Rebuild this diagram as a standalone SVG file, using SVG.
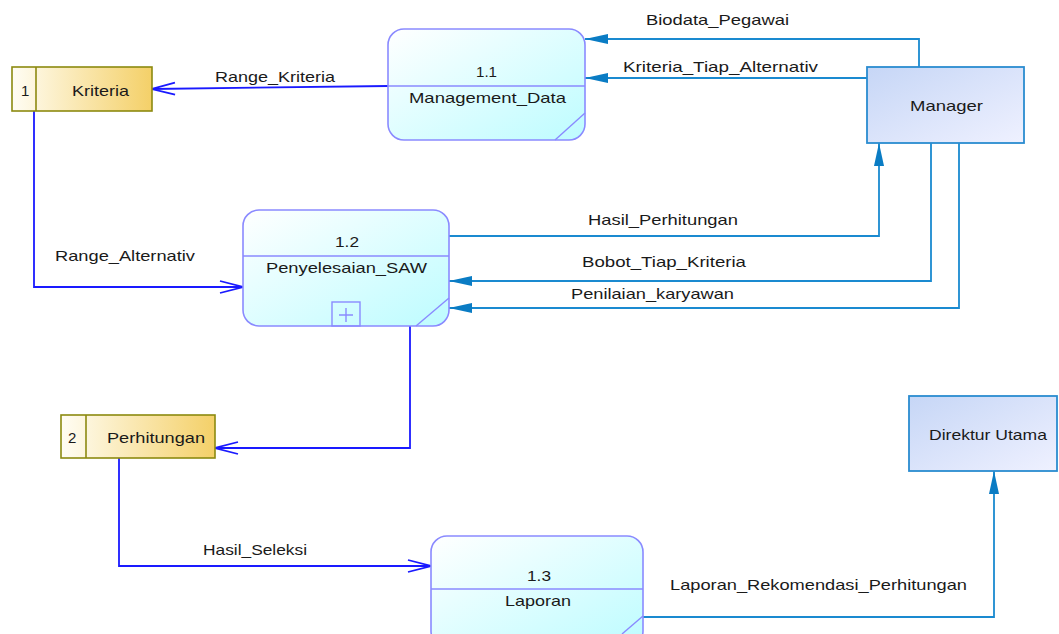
<svg xmlns="http://www.w3.org/2000/svg" width="1059" height="634" viewBox="0 0 1059 634">
  <style>
    text { font-family: "Liberation Sans", Arial, sans-serif; font-size: 15px; fill: #1a1a1a; }
    .proc { fill: url(#gProc); stroke: #8a8aff; stroke-width: 1.6; }
    .procline { stroke: #8a8aff; stroke-width: 1.4; fill: none; }
    .store { fill: url(#gStore); stroke: #8c8a10; stroke-width: 1.6; }
    .ent { fill: url(#gEnt); stroke: #2a8cd0; stroke-width: 1.8; }
    .flowA { fill: none; stroke: #1a8ad0; stroke-width: 1.8; }
    .flowB { fill: none; stroke: #1a1aff; stroke-width: 1.8; }
  </style>
  <defs>
    <linearGradient id="gProc" x1="0" y1="0" x2="1" y2="1">
      <stop offset="0" stop-color="#ffffff"/>
      <stop offset="1" stop-color="#bdfcff"/>
    </linearGradient>
    <linearGradient id="gStore" x1="0" y1="0" x2="1" y2="0">
      <stop offset="0" stop-color="#fffdf4"/>
      <stop offset="1" stop-color="#f4d068"/>
    </linearGradient>
    <linearGradient id="gEnt" x1="0" y1="0" x2="1" y2="1">
      <stop offset="0" stop-color="#c6d6f6"/>
      <stop offset="1" stop-color="#eff1ff"/>
    </linearGradient>
    <marker id="solid" markerUnits="userSpaceOnUse" markerWidth="24" markerHeight="12" refX="23" refY="6" orient="auto">
      <path d="M0,1 L23,6 L0,11 Z" fill="#0a7cc4"/>
    </marker>
    <marker id="open" markerUnits="userSpaceOnUse" markerWidth="26" markerHeight="16" refX="24" refY="8" orient="auto">
      <path d="M1,2 L24,8 L1,14" fill="none" stroke="#1a1aff" stroke-width="1.8"/>
    </marker>
  </defs>

  <!-- data flows -->
  <g id="connectors">
    <path class="flowA" d="M919,67 V39 H585" marker-end="url(#solid)"/>
    <path class="flowA" d="M867,78 H585" marker-end="url(#solid)"/>
    <path class="flowB" d="M388,86 L152,89" marker-end="url(#open)"/>
    <path class="flowB" d="M34,111 V287 H243" marker-end="url(#open)"/>
    <path class="flowA" d="M449,236 H879 V143" marker-end="url(#solid)"/>
    <path class="flowA" d="M931,143 V281 H449" marker-end="url(#solid)"/>
    <path class="flowA" d="M959,143 V308 H449" marker-end="url(#solid)"/>
    <path class="flowB" d="M410,326 V448 H215" marker-end="url(#open)"/>
    <path class="flowB" d="M119,458 V566 H431" marker-end="url(#open)"/>
    <path class="flowA" d="M643,617 H994 V471" marker-end="url(#solid)"/>

    <text x="646" y="25" textLength="143" lengthAdjust="spacingAndGlyphs">Biodata_Pegawai</text>
    <text x="623" y="72" textLength="195" lengthAdjust="spacingAndGlyphs">Kriteria_Tiap_Alternativ</text>
    <text x="215" y="82" textLength="120" lengthAdjust="spacingAndGlyphs">Range_Kriteria</text>
    <text x="55" y="261" textLength="140" lengthAdjust="spacingAndGlyphs">Range_Alternativ</text>
    <text x="588" y="225" textLength="150" lengthAdjust="spacingAndGlyphs">Hasil_Perhitungan</text>
    <text x="582" y="267" textLength="164" lengthAdjust="spacingAndGlyphs">Bobot_Tiap_Kriteria</text>
    <text x="571" y="299" textLength="163" lengthAdjust="spacingAndGlyphs">Penilaian_karyawan</text>
    <text x="203" y="555" textLength="104" lengthAdjust="spacingAndGlyphs">Hasil_Seleksi</text>
    <text x="670" y="590" textLength="297" lengthAdjust="spacingAndGlyphs">Laporan_Rekomendasi_Perhitungan</text>
  </g>

  <!-- process 1.1 -->
  <g id="p1_1">
    <rect class="proc" x="388" y="29" width="197" height="111" rx="16"/>
    <line class="procline" x1="388" y1="86" x2="585" y2="86"/>
    <line class="procline" x1="555" y1="140" x2="585" y2="113"/>
    <text x="476" y="77" textLength="21" lengthAdjust="spacingAndGlyphs">1.1</text>
    <text x="409" y="103" textLength="157" lengthAdjust="spacingAndGlyphs">Management_Data</text>
  </g>

  <!-- process 1.2 -->
  <g id="p1_2">
    <rect class="proc" x="243" y="210" width="206" height="116" rx="16"/>
    <line class="procline" x1="243" y1="256" x2="449" y2="256"/>
    <line class="procline" x1="416" y1="326" x2="449" y2="298"/>
    <rect class="procline" x="332" y="302" width="28" height="24"/>
    <path class="procline" d="M339,315 H353 M346,308 V322"/>
    <text x="335" y="247" textLength="24" lengthAdjust="spacingAndGlyphs">1.2</text>
    <text x="266" y="273" textLength="161" lengthAdjust="spacingAndGlyphs">Penyelesaian_SAW</text>
  </g>

  <!-- process 1.3 -->
  <g id="p1_3">
    <rect class="proc" x="431" y="536" width="212" height="111" rx="16"/>
    <line class="procline" x1="431" y1="589" x2="643" y2="589"/>
    <line class="procline" x1="622" y1="634" x2="643" y2="616"/>
    <text x="527" y="581" textLength="24" lengthAdjust="spacingAndGlyphs">1.3</text>
    <text x="505" y="606" textLength="66" lengthAdjust="spacingAndGlyphs">Laporan</text>
  </g>

  <!-- data store 1 -->
  <g id="ds_kriteria">
    <rect class="store" x="12" y="67" width="140" height="44"/>
    <line class="store" x1="36" y1="67" x2="36" y2="111"/>
    <text x="21" y="96">1</text>
    <text x="72" y="96" textLength="57" lengthAdjust="spacingAndGlyphs">Kriteria</text>
  </g>

  <!-- data store 2 -->
  <g id="ds_perhitungan">
    <rect class="store" x="61" y="415" width="154" height="43"/>
    <line class="store" x1="86" y1="415" x2="86" y2="458"/>
    <text x="68" y="443">2</text>
    <text x="107" y="443" textLength="98" lengthAdjust="spacingAndGlyphs">Perhitungan</text>
  </g>

  <!-- external entities -->
  <g id="e_manager">
    <rect class="ent" x="867" y="67" width="157" height="76"/>
    <text x="910" y="111" textLength="73" lengthAdjust="spacingAndGlyphs">Manager</text>
  </g>
  <g id="e_direktur">
    <rect class="ent" x="909" y="396" width="148" height="75"/>
    <text x="929" y="440" textLength="118" lengthAdjust="spacingAndGlyphs">Direktur Utama</text>
  </g>
</svg>
